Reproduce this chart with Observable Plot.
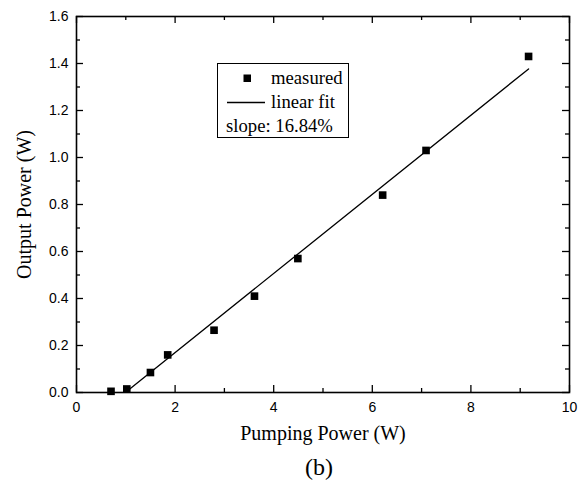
<!DOCTYPE html>
<html>
<head>
<meta charset="utf-8">
<script src="https://cdn.jsdelivr.net/npm/d3@7"></script>
<script src="https://cdn.jsdelivr.net/npm/@observablehq/plot@0.6"></script>
<style>
  html, body { margin: 0; padding: 0; background: #fff; }
  #wrap { position: relative; width: 587px; height: 480px; }
  #legend { position: absolute; left: 0; top: 0; }
</style>
</head>
<body>
<div id="wrap"></div>
<script>
// ---- data ----
const pumpPower   = [0.70, 1.02, 1.50, 1.85, 2.79, 3.61, 4.49, 6.21, 7.09, 9.17];
const outputPower = [0.005, 0.015, 0.085, 0.160, 0.265, 0.410, 0.570, 0.840, 1.030, 1.430];
const fitX = [1.08, 9.17];
const fitY = [0.015, 1.377];
const xMajor = [0, 2, 4, 6, 8, 10];
const xMinor = [1, 3, 5, 7, 9];
const yMajor = [0, 0.2, 0.4, 0.6, 0.8, 1.0, 1.2, 1.4, 1.6];
const yMinor = [0.1, 0.3, 0.5, 0.7, 0.9, 1.1, 1.3, 1.5];
const legendLabels = ["measured", "linear fit", "slope: 16.84%"];
const xTitle = "Pumping Power (W)";
const yTitle = "Output Power (W)";
const caption = "(b)";

const measured = pumpPower.map((x, i) => ({x, y: outputPower[i]}));
const fit = fitX.map((x, i) => ({x, y: fitY[i]}));

const W = 587, H = 480;
const mt = 16, mb = 88, ml = 76, mr = 18;
const ph = H - mt - mb, pw = W - ml - mr;
const sans = "Liberation Sans, Arial, sans-serif";
const serif = "Liberation Serif, Times New Roman, serif";
const maj = 7, mnr = 4;

const chart = Plot.plot({
  width: W, height: H,
  marginTop: mt, marginBottom: mb, marginLeft: ml, marginRight: mr,
  x: {domain: [0, 10]},
  y: {domain: [0, 1.6]},
  style: {background: "white", color: "black", fontSize: "14px", fontFamily: sans},
  marks: [
    // inward ticks on all four sides
    Plot.tickX(xMajor, {x: d => d, insetTop: ph - maj, stroke: "black", strokeWidth: 1.3}),
    Plot.tickX(xMinor, {x: d => d, insetTop: ph - mnr, stroke: "black", strokeWidth: 1.3}),
    Plot.tickX(xMajor, {x: d => d, insetBottom: ph - maj, stroke: "black", strokeWidth: 1.3}),
    Plot.tickX(xMinor, {x: d => d, insetBottom: ph - mnr, stroke: "black", strokeWidth: 1.3}),
    Plot.tickY(yMajor, {y: d => d, insetRight: pw - maj, stroke: "black", strokeWidth: 1.3}),
    Plot.tickY(yMinor, {y: d => d, insetRight: pw - mnr, stroke: "black", strokeWidth: 1.3}),
    Plot.tickY(yMajor, {y: d => d, insetLeft: pw - maj, stroke: "black", strokeWidth: 1.3}),
    Plot.tickY(yMinor, {y: d => d, insetLeft: pw - mnr, stroke: "black", strokeWidth: 1.3}),
    Plot.axisX({ticks: xMajor, tickSize: 0, tickPadding: 10, label: null}),
    Plot.axisY({ticks: yMajor, tickSize: 0, tickPadding: 8, label: null, tickFormat: d3.format(".1f")}),
    Plot.frame({stroke: "black", strokeWidth: 1.6}),
    Plot.line(fit, {x: "x", y: "y", stroke: "black", strokeWidth: 1.3}),
    Plot.dot(measured, {x: "x", y: "y", symbol: "square", r: 4.3, fill: "black", stroke: "none"}),
    Plot.text([xTitle], {text: d => d, frameAnchor: "bottom", dy: 41, lineAnchor: "middle", textAnchor: "middle", fontFamily: serif, fontSize: 20, fill: "black"}),
    Plot.text([yTitle], {text: d => d, frameAnchor: "left", dx: -52, rotate: -90, lineAnchor: "middle", textAnchor: "middle", fontFamily: serif, fontSize: 20, fill: "black"}),
    Plot.text([caption], {text: d => d, frameAnchor: "bottom", dx: -4, dy: 75, lineAnchor: "middle", textAnchor: "middle", fontFamily: serif, fontSize: 24, fill: "black"})
  ]
});

const wrap = document.getElementById("wrap");
wrap.appendChild(chart);

// legend overlay
const leg = d3.select(wrap).append("svg")
  .attr("id", "legend").attr("width", W).attr("height", H)
  .style("font-family", serif).style("font-size", "18.7px");
leg.append("rect").attr("x", 217.5).attr("y", 63.5).attr("width", 131).attr("height", 74)
  .attr("fill", "white").attr("stroke", "black").attr("stroke-width", 1);
leg.append("rect").attr("x", 243.5).attr("y", 74.5).attr("width", 7.5).attr("height", 7.5).attr("fill", "black");
leg.append("text").attr("x", 271).attr("y", 84).text(legendLabels[0]);
leg.append("line").attr("x1", 227).attr("x2", 265).attr("y1", 102.5).attr("y2", 102.5)
  .attr("stroke", "black").attr("stroke-width", 1.3);
leg.append("text").attr("x", 271).attr("y", 108).text(legendLabels[1]);
leg.append("text").attr("x", 226).attr("y", 132).text(legendLabels[2]);
</script>
</body>
</html>
